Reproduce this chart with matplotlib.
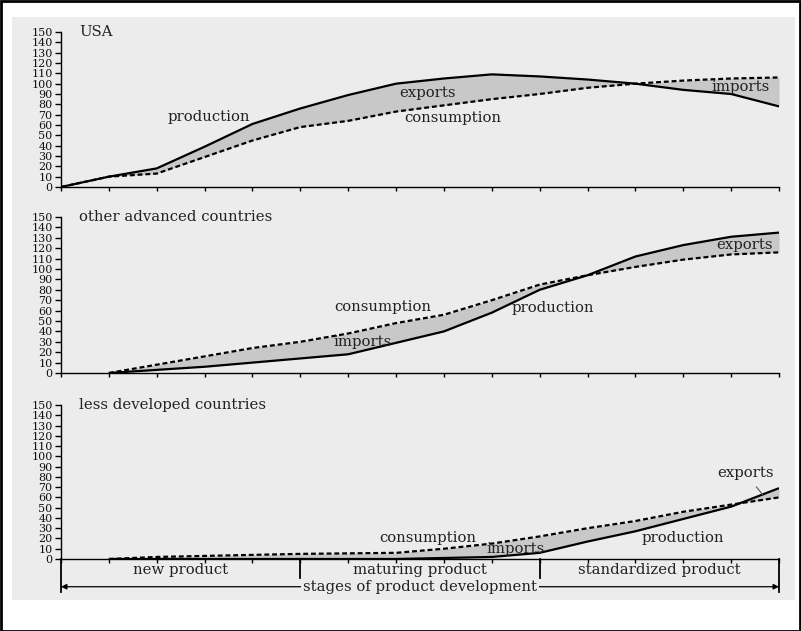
import numpy as np
import matplotlib
matplotlib.use("Agg")
import matplotlib.pyplot as plt
from matplotlib.patches import Rectangle

plt.rcParams["font.family"] = ["DejaVu Serif"]

# stage positions (ticks along the horizontal axis)
x_usa = np.arange(0, 16)
x_rest = np.arange(1, 16)

# USA
prod_usa = [0, 10, 18, 39, 61, 76, 89, 100, 105, 109, 107, 104, 100, 94, 90, 78]
cons_usa = [0, 10, 13, 29, 45, 58, 64, 73, 79, 85, 90, 96, 100, 103, 105, 106]

# other advanced countries
prod_oth = [0, 3, 6, 10, 14, 18, 29, 40, 58, 80, 94, 112, 123, 131, 135]
cons_oth = [0, 8, 16, 24, 30, 38, 48, 56, 70, 85, 94, 102, 109, 114, 116]

# less developed countries
prod_ldc = [0, 0, 0, 0, 0, 0, 0, 1, 2, 6, 17, 27, 39, 51, 69]
cons_ldc = [0, 2, 3, 4, 5, 5.5, 6, 10, 15, 22, 30, 37, 46, 53, 60]

stages = ["new product", "maturing product", "standardized product"]
yticks = list(range(0, 151, 10))

W, H = 801, 631
fig = plt.figure(figsize=(W / 100, H / 100), dpi=100)
fig.patches.append(Rectangle((12 / W, 31 / H), 783 / W, 583 / H,
                             transform=fig.transFigure, facecolor="#ececec",
                             edgecolor="none", zorder=-10))
fig.patches.append(Rectangle((0.5 / W, 0.5 / H), (W - 1.5) / W, (H - 1.5) / H,
                             transform=fig.transFigure, facecolor="none",
                             edgecolor="black", lw=2, zorder=5))


def make_axes(y0, y150):
    ax = fig.add_axes([61 / W, (H - y0) / H, 718 / W, (y0 - y150) / H])
    ax.set_facecolor("none")
    ax.set_xlim(0, 15)
    ax.set_ylim(0, 150)
    for s in ["top", "right"]:
        ax.spines[s].set_visible(False)
    ax.spines["left"].set_linewidth(1.0)
    ax.spines["bottom"].set_linewidth(1.0)
    ax.set_xticks(range(0, 16))
    ax.set_xticklabels([])
    ax.tick_params(axis="x", direction="out", length=3, width=1)
    ax.set_yticks(yticks)
    ax.set_yticklabels([str(v) for v in yticks], fontsize=8, color="#111")
    ax.tick_params(axis="y", direction="out", length=4, width=1, pad=2)
    return ax


def draw(ax, x, prod, cons):
    prod = np.array(prod, dtype=float)
    cons = np.array(cons, dtype=float)
    ax.fill_between(x, prod, cons, color="#c8c8c8", interpolate=True, lw=0)
    ax.plot(x, prod, color="black", lw=1.6, solid_capstyle="butt")
    ax.plot(x, cons, color="black", lw=1.6, dashes=(2.2, 1.3))


FS = 10.7
lab = dict(fontsize=FS, color="#222", ha="center", va="center")

ax1 = make_axes(187, 32)
draw(ax1, x_usa, prod_usa, cons_usa)
ax1.text(0.38, 150, "USA", fontsize=FS, color="#222", ha="left", va="center")
ax1.text(3.09, 68, "production", **lab)
ax1.text(7.65, 91, "exports", **lab)
ax1.text(8.19, 67, "consumption", **lab)
ax1.text(14.2, 97, "imports", **lab)

ax2 = make_axes(373, 217)
draw(ax2, x_rest, prod_oth, cons_oth)
ax2.text(0.38, 150, "other advanced countries", fontsize=FS, color="#222",
         ha="left", va="center")
ax2.text(6.73, 63.5, "consumption", **lab)
ax2.text(6.3, 30, "imports", **lab)
ax2.text(10.28, 62.5, "production", **lab)
ax2.text(14.27, 123, "exports", **lab)

ax3 = make_axes(559, 405)
draw(ax3, x_rest, prod_ldc, cons_ldc)
ax3.text(0.38, 150, "less developed countries", fontsize=FS, color="#222",
         ha="left", va="center")
ax3.text(7.67, 20.5, "consumption", **lab)
ax3.text(9.5, 10, "imports", **lab)
ax3.text(13.0, 20.5, "production", **lab)
ax3.annotate("exports", xy=(14.67, 62), xytext=(14.29, 84),
             arrowprops=dict(arrowstyle="-", color="#555", lw=0.8,
                             shrinkA=4, shrinkB=0), **lab)

# stage brackets under the lowest axis
for xs in [5, 10]:
    ax3.plot([xs, xs], [0, -18.5], color="black", lw=1.3, clip_on=False)
for xs in [0, 15]:
    ax3.plot([xs, xs], [0, -32], color="black", lw=1.3, clip_on=False)
for i, name in enumerate(stages):
    ax3.text(2.5 + 5 * i, -10.7, name, **lab)
ax3.annotate("", xy=(0, -27), xytext=(15, -27),
             arrowprops=dict(arrowstyle="<|-|>", color="black", lw=0.9,
                             mutation_scale=8, shrinkA=0, shrinkB=0),
             annotation_clip=False)
ax3.text(7.5, -27, "stages of product development", fontsize=FS, color="#222",
         ha="center", va="center",
         bbox=dict(facecolor="#ececec", edgecolor="none", pad=1.5))

fig.savefig("out.png", dpi=100)
